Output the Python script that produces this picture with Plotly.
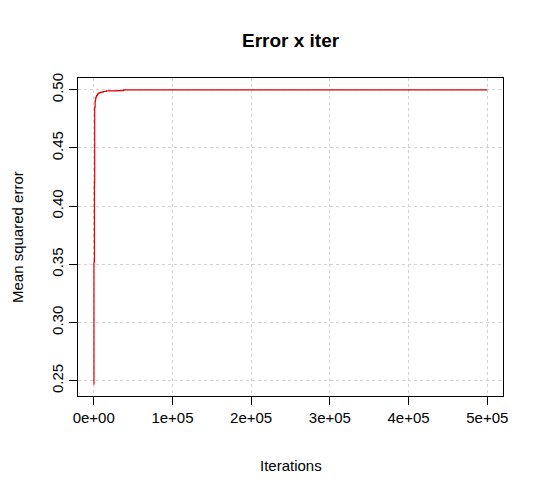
import plotly.graph_objects as go

iterations = [0, 300, 600, 900, 1200, 1500, 1800, 2200, 2600, 3000, 3600, 4500, 5500, 7000, 9000, 12000, 16000, 22000, 30000, 38000, 100000, 250000, 500000]
mse = [0.247, 0.352, 0.352, 0.420, 0.485, 0.485, 0.490, 0.492, 0.493, 0.494, 0.495, 0.496, 0.497, 0.4975, 0.498, 0.4985, 0.499, 0.499, 0.4993, 0.5, 0.5, 0.5, 0.5]

x_ticks = [0, 100000, 200000, 300000, 400000, 500000]
x_tick_labels = ["0e+00", "1e+05", "2e+05", "3e+05", "4e+05", "5e+05"]
y_ticks = [0.25, 0.30, 0.35, 0.40, 0.45, 0.50]
y_tick_labels = ["0.25", "0.30", "0.35", "0.40", "0.45", "0.50"]

fig = go.Figure()
fig.add_trace(go.Scatter(x=iterations, y=mse, mode="lines", line=dict(color="#E00000", width=1.2, shape="hv"), showlegend=False))

font = "Liberation Sans, Arial, sans-serif"
xr = [min(iterations), max(iterations)]
yr = [min(mse), max(mse)]
dx = (xr[1] - xr[0]) * 0.04
dy = (yr[1] - yr[0]) * 0.04

fig.update_layout(
    width=536, height=486,
    margin=dict(l=70, r=41, t=70, b=98),
    paper_bgcolor="white", plot_bgcolor="white",
    font=dict(family=font, size=15, color="black"),
    xaxis=dict(range=[xr[0] - dx, xr[1] + dx], tickvals=x_ticks, ticktext=x_tick_labels,
               showline=True, mirror=True, linecolor="black", linewidth=1,
               ticks="outside", ticklen=8, tickcolor="black",
               showgrid=True, gridcolor="#D3D3D3", griddash="dot", gridwidth=1, zeroline=False),
    yaxis=dict(range=[yr[0] - dy, yr[1] + dy], tickvals=y_ticks, ticktext=y_tick_labels, tickangle=-90,
               showline=True, mirror=True, linecolor="black", linewidth=1,
               ticks="outside", ticklen=8, tickcolor="black",
               showgrid=True, gridcolor="#D3D3D3", griddash="dot", gridwidth=1, zeroline=False),
    annotations=[
        dict(text="<b>Error x iter</b>", x=0.5, y=1, xref="paper", yref="paper", yshift=38,
             showarrow=False, font=dict(size=19), xanchor="center", yanchor="middle"),
        dict(text="Iterations", x=0.5, y=0, xref="paper", yref="paper", yshift=-69,
             showarrow=False, font=dict(size=15), xanchor="center", yanchor="middle"),
        dict(text="Mean squared error", x=0, y=0.5, xref="paper", yref="paper", xshift=-61,
             showarrow=False, font=dict(size=15), textangle=-90, xanchor="center", yanchor="middle"),
    ],
)

fig.write_html("out.html")
